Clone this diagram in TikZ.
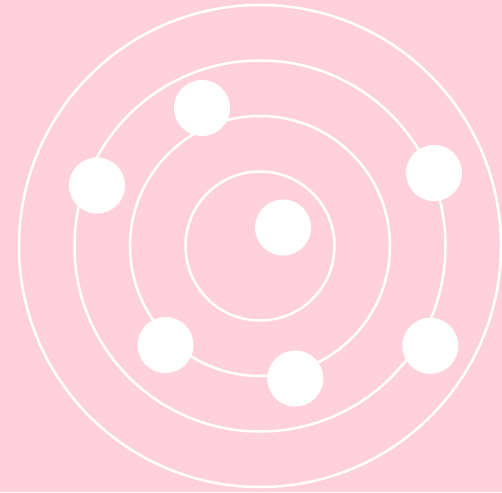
\documentclass[tikz,border=0pt]{standalone}
\usepackage{xcolor}
\usepackage{tikz}
\definecolor{bgpink}{RGB}{255,209,220}
\tikzset{
  orbit/.style={draw=white,line width=2.5pt},
  electron/.style={circle,fill=white,inner sep=0pt,minimum size=56pt}
}
\begin{document}
\begin{tikzpicture}[x=1pt,y=-1pt]
% background
\fill[bgpink] (0,0) rectangle (502,492);
\useasboundingbox (0,0) rectangle (502,492);
% orbits
\coordinate (c) at (260,246);
\foreach \r in {241,185.5,130,74.5}
  \draw[orbit] (c) circle[radius=\r];
% electrons
\node[electron] (e1) at (202,108) {};
\node[electron] (e2) at (97,185.5) {};
\node[electron] (e3) at (434,173) {};
\node[electron] (e4) at (283,227.5) {};
\node[electron] (e5) at (165.5,345) {};
\node[electron] (e6) at (295.3,378.5) {};
\node[electron] (e7) at (430.3,345.8) {};
\end{tikzpicture}
\end{document}
